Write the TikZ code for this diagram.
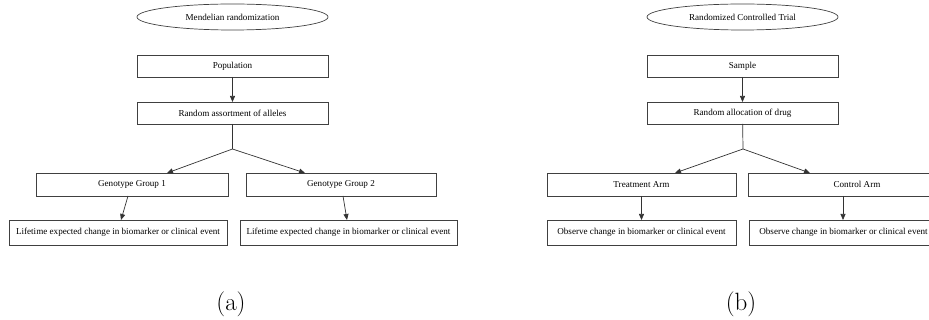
\documentclass[tikz,border=0pt]{standalone}
\usepackage{fontspec}
\newfontfamily\boxfont{Liberation Serif}
\usetikzlibrary{arrows.meta,calc,shapes.geometric}
\begin{document}
\begin{tikzpicture}[x=1pt,y=-1pt,
  every node/.style={inner sep=0pt,outer sep=0pt},
  stepbox/.style={draw=black!75,line width=0.7pt,rectangle,minimum height=#1,
    font=\boxfont\fontsize{9.1}{11}\selectfont},
  stepbox/.default=22pt,
  titlebox/.style={draw=black!75,line width=0.7pt,ellipse,minimum width=191pt,minimum height=26pt,
    font=\boxfont\fontsize{9.1}{11}\selectfont},
  link/.style={draw=black!80,line width=0.7pt},
  arr/.style={link,-{Triangle[length=6pt,width=5pt]}},
  caption/.style={font=\fontsize{25}{29}\selectfont}]
\useasboundingbox (0,0) rectangle (929,320);
\clip (0,0) rectangle (929,320);

% Mendelian randomization
\node[titlebox] (ell1) at (232.5,17) {Mendelian randomization};
\node[stepbox,minimum width=191pt] (pop) at (232.5,66) {Population};
\node[stepbox,minimum width=191pt] (ra) at (232.5,113) {Random assortment of alleles};
\coordinate (j1) at (232.5,149);
\node[stepbox=23pt,minimum width=192pt] (g1) at (132,184.5) {Genotype Group 1};
\node[stepbox=23pt,minimum width=190pt] (g2) at (341,184.5) {Genotype Group 2};
\node[stepbox=25pt,minimum width=218pt] (l1) at (118,232.5) {Lifetime expected change in biomarker or clinical event};
\node[stepbox=25pt,minimum width=217pt] (l2) at (348.5,232.5) {Lifetime expected change in biomarker or clinical event};

\draw[arr] (pop) -- (ra);
\draw[link] (ra) -- (j1);
\draw[arr] (j1) -- ($(g1.north)+(35,0)$);
\draw[arr] (j1) -- ($(g2.north)+(-36,0)$);
\draw[arr] ($(g1.south)+(-4,0)$) -- ($(l1.north)+(3,0)$);
\draw[arr] ($(g2.south)+(2,0)$) -- ($(l2.north)+(-1.5,0)$);

% Randomized controlled trial
\node[titlebox] (ell2) at (742.5,17) {Randomized Controlled Trial};
\node[stepbox,minimum width=191pt] (samp) at (742.5,66) {Sample};
\node[stepbox,minimum width=191pt] (alloc) at (742.5,113) {Random allocation of drug};
\coordinate (j2) at (743,149);
\node[stepbox=23pt,minimum width=189pt] (trt) at (641.5,184.5) {Treatment Arm};
\node[stepbox=23pt,minimum width=218pt] (ctl) at (857,184.5) {Control Arm};
\node[stepbox=25pt,minimum width=189pt] (obs1) at (641.5,232.5) {Observe change in biomarker or clinical event};
\node[stepbox=25pt,minimum width=189pt] (obs2) at (843.5,232.5) {Observe change in biomarker or clinical event};

\draw[arr] (samp) -- (alloc);
\draw[link] (alloc) -- (j2);
\draw[arr] (j2) -- ($(trt.north)+(33.5,0)$);
\draw[arr] (j2) -- ($(ctl.north)+(-47,0)$);
\draw[arr] (trt) -- (obs1);
\draw[arr] ($(ctl.south)+(-14,0)$) -- ($(obs2.north)+(-0.5,0)$);

% sub-figure captions
\node[caption] (capa) at (231,304) {(a)};
\node[caption] (capb) at (741,304) {(b)};
\end{tikzpicture}
\end{document}
